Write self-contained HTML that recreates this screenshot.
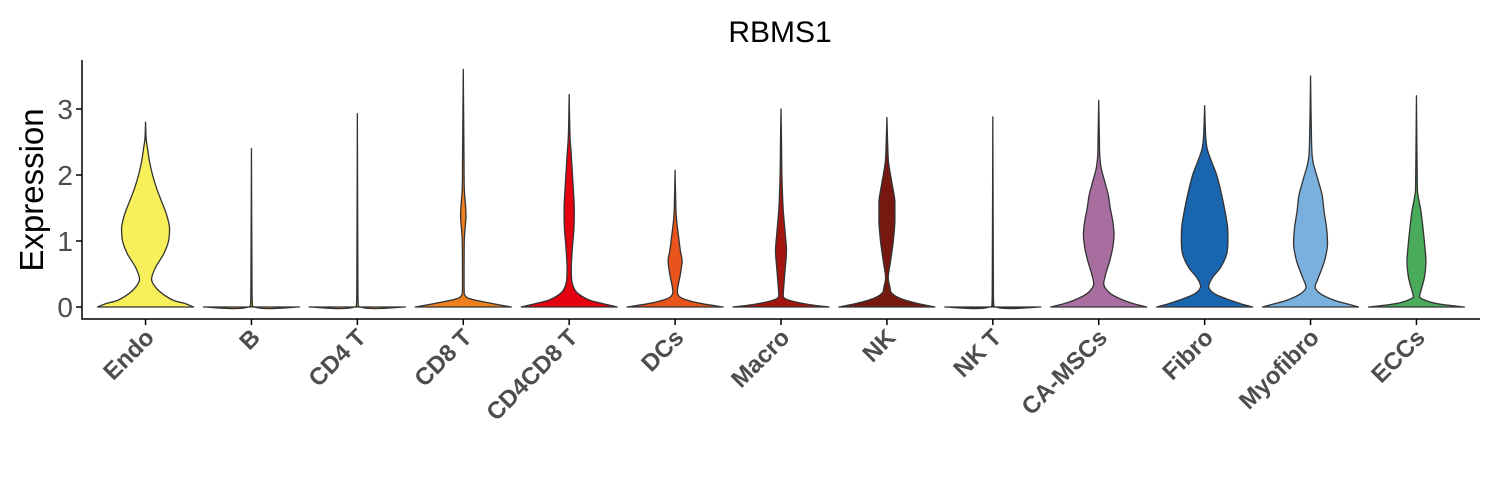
<!DOCTYPE html>
<html><head><meta charset="utf-8"><style>
body{margin:0;background:#fff}
svg{display:block;font-family:"Liberation Sans",Arial,sans-serif}
</style></head><body>
<svg id="chart" width="1500" height="500">
<text x="780" y="42" text-anchor="middle" font-size="30" fill="#000">RBMS1</text>
<text transform="translate(43,190) rotate(-90)" text-anchor="middle" font-size="33" fill="#000">Expression</text>
<g id="plot"></g>
</svg>
<script>
const categories=["Endo","B","CD4 T","CD8 T","CD4CD8 T","DCs","Macro","NK","NK T","CA-MSCs","Fibro","Myofibro","ECCs"];
const colors=["#F8F05B","#F5B800","#F9A11B","#F07F1E","#E3000F","#E8541C","#A5150F","#761810","#5A1A10","#A86EA0","#1A65AF","#7AB0DD","#4AAB5A"];
const yTicks=[0,1,2,3];
const densities=[
[[0,48],[0.05,40],[0.1,28],[0.2,17],[0.3,10],[0.42,6],[0.6,10],[0.8,18],[1.0,23],[1.2,24],[1.4,21],[1.6,16],[1.8,11],[2.0,7],[2.2,4],[2.4,2],[2.55,0.6],[2.8,0]],
[[0,48],[0.015,1],[0.5,0.5],[2.4,0]],
[[0,48],[0.015,1],[0.5,0.5],[2.93,0]],
[[0,48],[0.03,37],[0.07,23],[0.12,8],[0.17,2],[0.3,0.8],[1,1],[1.4,2.7],[1.8,1],[2.3,0.7],[3.6,0]],
[[0,48],[0.05,34],[0.1,21],[0.17,12],[0.25,6],[0.4,2.6],[0.6,2.1],[0.9,3.2],[1.2,4.8],[1.5,5.1],[1.9,3.7],[2.3,2.1],[2.6,0.8],[3.22,0]],
[[0,48],[0.05,27],[0.1,13],[0.15,5],[0.22,2.2],[0.3,2.7],[0.5,5.3],[0.7,7],[0.85,5.3],[1.1,3.2],[1.3,1.6],[1.5,0.8],[2.07,0]],
[[0,48],[0.04,27],[0.1,8.5],[0.16,2.2],[0.3,2.7],[0.6,4.3],[0.85,5.5],[1.1,4.3],[1.5,2.1],[2,0.9],[2.5,0.5],[3,0]],
[[0,48],[0.05,32],[0.1,19],[0.15,10.5],[0.22,4.3],[0.3,3],[0.45,1.3],[0.7,3.7],[1.0,6.4],[1.3,8],[1.6,8],[1.9,4.8],[2.2,1.6],[2.5,0.7],[2.87,0]],
[[0,48],[0.015,1],[0.5,0.5],[2.88,0]],
[[0,48],[0.05,35],[0.1,25],[0.2,12],[0.3,6],[0.36,5],[0.5,7],[0.7,11],[0.9,14],[1.1,15.3],[1.3,14],[1.5,11.5],[1.7,9.5],[1.9,6],[2.1,2.5],[2.3,1],[2.6,0.6],[3.13,0]],
[[0,48],[0.05,36],[0.1,26],[0.2,10],[0.31,4],[0.45,8],[0.6,16],[0.8,22],[1.0,23.3],[1.2,23],[1.4,21],[1.7,17],[2.0,12],[2.2,7],[2.4,2.5],[2.6,1],[3.05,0]],
[[0,48],[0.05,36],[0.1,24],[0.2,10],[0.3,4.5],[0.45,8],[0.7,14],[0.95,17],[1.2,16],[1.45,13.5],[1.7,11.5],[1.95,7],[2.2,2.5],[2.5,1],[3.5,0]],
[[0,48],[0.03,30],[0.07,15],[0.15,3],[0.25,4.5],[0.45,8],[0.68,9.5],[0.9,8.5],[1.2,6.5],[1.45,4.5],[1.7,1.5],[1.9,0.8],[3.2,0]]
];
const NS="http://www.w3.org/2000/svg";
const g=document.getElementById('plot');
const x0=82,x1=1480,yBase=307,pxPerUnit=66;
const unit=(x1-x0)/(categories.length+0.2);
const xScale=i=>x0+unit*(i+0.6);
const yScale=v=>yBase-v*pxPerUnit;
function mk(t,a){const e=document.createElementNS(NS,t);for(const k in a)e.setAttribute(k,a[k]);g.appendChild(e);return e;}
const clamp=(v,a,b)=>Math.max(Math.min(a,b),Math.min(Math.max(a,b),v));
function smooth(pts,start){
 let s=(start?'M':'L')+pts[0][0].toFixed(2)+' '+pts[0][1].toFixed(2);
 for(let i=0;i<pts.length-1;i++){
  const p0=pts[Math.max(0,i-1)],p1=pts[i],p2=pts[i+1],p3=pts[Math.min(pts.length-1,i+2)];
  const t=0.16;
  const c1=[clamp(p1[0]+(p2[0]-p0[0])*t,p1[0],p2[0]),p1[1]+(p2[1]-p0[1])*t];
  const c2=[clamp(p2[0]-(p3[0]-p1[0])*t,p1[0],p2[0]),p2[1]-(p3[1]-p1[1])*t];
  s+='C'+c1[0].toFixed(2)+' '+c1[1].toFixed(2)+' '+c2[0].toFixed(2)+' '+c2[1].toFixed(2)+' '+p2[0].toFixed(2)+' '+p2[1].toFixed(2);
 }
 return s;
}
const ax=mk('path',{d:`M${x0} 60V319H${x1}`,fill:'none',stroke:'#000','stroke-width':1.5});


yTicks.forEach(t=>{
 const l=mk('line',{x1:x0-6,x2:x0,y1:yScale(t),y2:yScale(t),stroke:'#000','stroke-width':1.5});
 
 
 const tx=mk('text',{x:x0-9,y:yScale(t)+10,'text-anchor':'end','font-size':28,fill:'#4d4d4d'});
 tx.textContent=t;
 
 
});
categories.forEach((c,i)=>{
 const cx=xScale(i),d=densities[i];
 const right=d.map(p=>[cx+p[1],yScale(p[0])]);
 const left=d.slice().reverse().map(p=>[cx-p[1],yScale(p[0])]);
 const s=smooth(right,true)+smooth(left,false)+'Z';
 const v=mk('path',{d:s,fill:colors[i],stroke:'#333','stroke-width':1.3,'stroke-linejoin':'round'});
 
 
 const tk=mk('line',{x1:cx,x2:cx,y1:319,y2:325,stroke:'#000','stroke-width':1.5});
 
 
 const lb=mk('text',{transform:`translate(${cx+10},${339}) rotate(-45)`,'text-anchor':'end','font-size':24,'font-weight':'bold',fill:'#4d4d4d'});
 lb.textContent=c;
 
 
});
</script>
</body></html>
